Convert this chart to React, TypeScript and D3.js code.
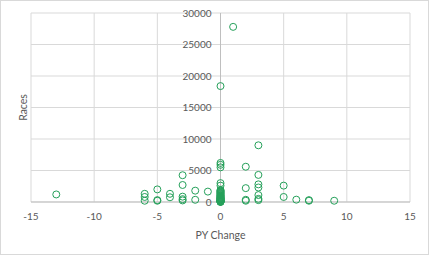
import React from "react";
import * as d3 from "d3";

const pyChange: number[] = [
  -13,
  -6, -6, -6,
  -5, -5, -5,
  -4, -4,
  -3, -3, -3, -3, -3,
  -2, -2,
  -1,
  0, 0, 0, 0, 0, 0, 0, 0, 0, 0, 0, 0, 0, 0, 0, 0, 0, 0, 0, 0, 0,
  0, 0, 0, 0, 0, 0, 0, 0, 0, 0, 0, 0, 0, 0, 0, 0,
  1,
  2, 2, 2, 2,
  3, 3, 3, 3, 3, 3, 3,
  5, 5,
  6,
  7, 7,
  9,
];
const races: number[] = [
  1200,
  1300, 800, 200,
  2000, 300, 200,
  1300, 750,
  4250, 2700, 850, 450, 250,
  1800, 350,
  1650,
  18400, 6200, 5900, 5500, 3000, 2600, 1900, 1700, 1500, 1300, 1100, 950, 800, 650, 500, 400, 300, 200, 150, 100, 50,
  1800, 1600, 1400, 1200, 1000, 850, 700, 600, 550, 450, 350, 250, 120, 80, 30, 10,
  27800,
  5600, 2200, 350, 200,
  9000, 4300, 2800, 2300, 1100, 500, 300,
  2600, 800,
  370,
  300, 200,
  200,
];
const xTicks: number[] = [-15, -10, -5, 0, 5, 10, 15];
const yTicks: number[] = [0, 5000, 10000, 15000, 20000, 25000, 30000];
const xTitle = "PY Change";
const yTitle = "Races";

export default function App() {
  const W = 430, H = 256;
  const left = 31, right = 410, top = 13, bottom = 202;
  const x = d3.scaleLinear().domain([-15, 15]).range([left, right]);
  const y = d3.scaleLinear().domain([0, 30000]).range([bottom, top]);
  const font = "Lato, 'Open Sans', sans-serif";
  const txt = "#595959";
  return (
    <svg width={W} height={H} style={{ position: "absolute", left: 0, top: 0 }}>
      <rect x={0} y={0} width={W} height={H} fill="#fff" />
      <rect x={0.5} y={0.5} width={428} height={254} fill="none" stroke="#d9d9d9" />
      {xTicks.map((t) => (
        <line key={"gx" + t} x1={x(t)} x2={x(t)} y1={top} y2={bottom} stroke="#d9d9d9" strokeWidth={1} />
      ))}
      {yTicks.map((t) => (
        <line key={"gy" + t} x1={left} x2={right} y1={y(t)} y2={y(t)} stroke="#d9d9d9" strokeWidth={1} />
      ))}
      <line x1={x(0)} x2={x(0)} y1={top} y2={bottom} stroke="#bfbfbf" strokeWidth={1} />
      <line x1={left} x2={right} y1={y(0)} y2={y(0)} stroke="#bfbfbf" strokeWidth={1} />
      {yTicks.map((t) => (
        <text key={"ty" + t} x={x(0) - 9} y={y(t)} dy="0.35em" textAnchor="end" fontSize={10} fontFamily={font} fill={txt}>
          {t}
        </text>
      ))}
      {xTicks.map((t) => (
        <text key={"tx" + t} x={x(t)} y={bottom + 14} dy="0.35em" textAnchor="middle" fontSize={10} fontFamily={font} fill={txt}>
          {t}
        </text>
      ))}
      <text x={x(0)} y={235} dy="0.35em" textAnchor="middle" fontSize={10.5} fontFamily={font} fill={txt}>
        {xTitle}
      </text>
      <text transform={`translate(23,${(top + bottom) / 2}) rotate(-90)`} dy="0.35em" textAnchor="middle" fontSize={10.5} fontFamily={font} fill={txt}>
        {yTitle}
      </text>
      {pyChange.map((v, i) => (
        <circle key={"p" + i} cx={x(v)} cy={y(races[i])} r={3.5} fill="none" stroke="#25a05a" strokeWidth={1} />
      ))}
    </svg>
  );
}
